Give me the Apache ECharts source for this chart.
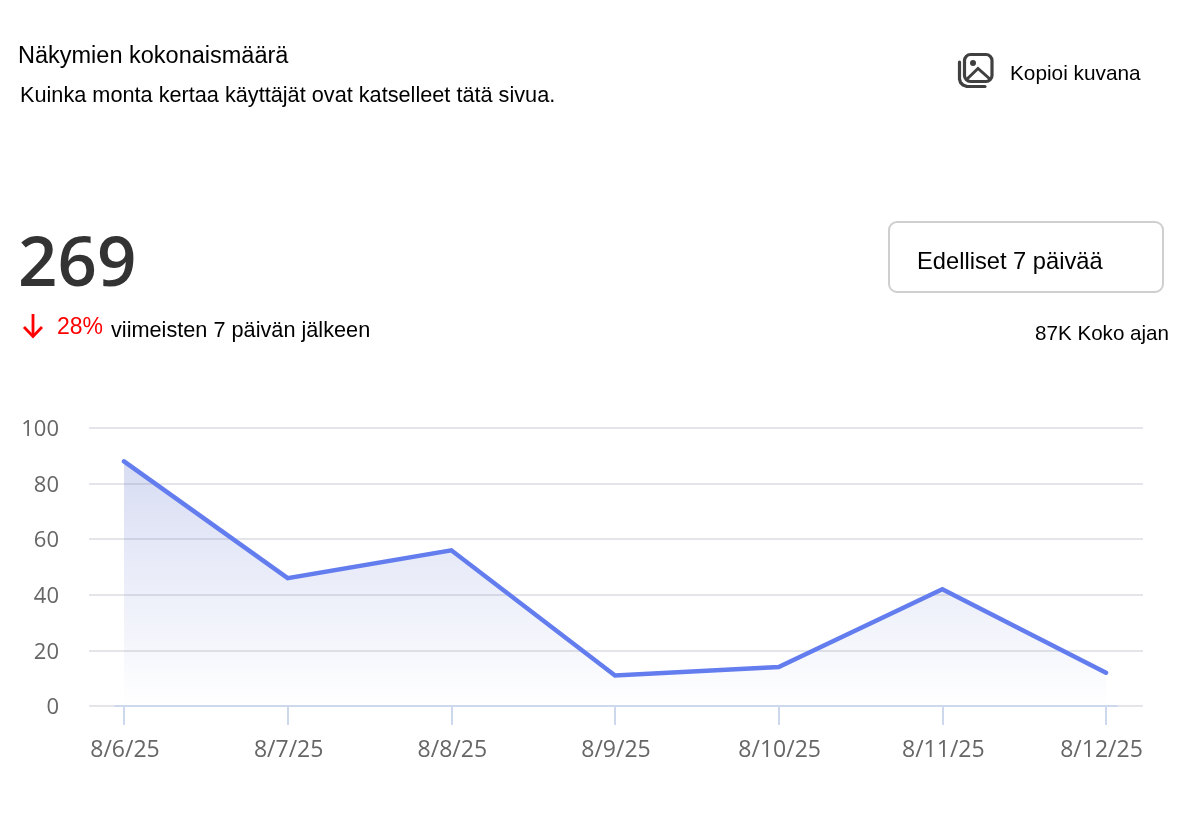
<!DOCTYPE html>
<html><head><meta charset="utf-8">
<style>html,body{margin:0;padding:0;background:#fff}#c{width:1182px;height:818px}</style>
<script src="https://cdn.jsdelivr.net/npm/echarts@6/dist/echarts.min.js"></script>
</head><body><div id="c"></div>
<script>
const categories = ['8/6/25','8/7/25','8/8/25','8/9/25','8/10/25','8/11/25','8/12/25'];
const views = [88,46,56,11,14,42,12];
const yTicks = {min:0,max:100,interval:20};
const sans = 'Liberation Sans';
const ui = '"Open Sans"';
const chart = echarts.init(document.getElementById('c'),null,{renderer:'canvas'});
function txt(x,y,t,size,color,font,weight,align){
  return {type:'text',z:10,x,y,style:{text:t,font:(weight||'normal')+' '+size+'px '+(font||sans),fill:color||'#000',textAlign:align||'left',textVerticalAlign:'middle'}};
}
const xData = categories.map((c,i)=> i===categories.length-1 ? {value:c,textStyle:{padding:[0,9,0,0]}} : {value:c,textStyle:{padding:[0,0,0,2]}});
chart.setOption({
  animation:false,
  backgroundColor:'#fff',
  grid:[
    {left:89,width:1054,top:428,height:278},
    {left:124,width:982,top:428,height:278},
    {left:115,width:1002,top:428,height:278},
    {left:89,width:1054,top:430,height:278}
  ],
  xAxis:[
    {gridIndex:0,type:'category',data:categories,show:false},
    {gridIndex:1,type:'category',data:xData,boundaryGap:false,
      axisLine:{show:false},
      axisTick:{show:true,length:19,lineStyle:{color:'#cdd8ec',width:2}},
      axisLabel:{color:'#666',fontFamily:ui,fontSize:23,margin:33,interval:0,hideOverlap:false,alignMinLabel:'center',alignMaxLabel:'center'},splitLine:{show:false}},
    {gridIndex:2,type:'value',min:0,max:1,axisLine:{show:true,onZero:false,lineStyle:{color:'#cdd8ec',width:2}},axisTick:{show:false},axisLabel:{show:false},splitLine:{show:false}},
    {gridIndex:3,type:'category',data:categories,show:false}
  ],
  yAxis:[
    {gridIndex:0,type:'value',min:yTicks.min,max:yTicks.max,interval:yTicks.interval,
      axisLine:{show:false},axisTick:{show:false},axisLabel:{show:false},
      splitLine:{show:true,lineStyle:{color:'#e4e5e8',width:2}}},
    {gridIndex:1,type:'value',min:yTicks.min,max:yTicks.max,show:false},
    {gridIndex:2,type:'value',min:yTicks.min,max:yTicks.max,show:false},
    {gridIndex:3,type:'value',min:yTicks.min,max:yTicks.max,interval:yTicks.interval,
      axisLine:{show:false},axisTick:{show:false},splitLine:{show:false},
      axisLabel:{color:'#666',fontFamily:ui,fontSize:22,margin:30}}
  ],
  series:[{
    type:'line',xAxisIndex:1,yAxisIndex:1,data:views,showSymbol:false,
    lineStyle:{color:'#637DEF',width:4.5,cap:'round',join:'miter'},
    areaStyle:{color:new echarts.graphic.LinearGradient(0,0,0,1,[{offset:0,color:'rgba(90,110,205,0.34)'},{offset:1,color:'rgba(90,110,205,0.0)'}])}
  }],
  graphic:[
    txt(18,57,'Näkymien kokonaismäärä',23.5),
    txt(20,96,'Kuinka monta kertaa käyttäjät ovat katselleet tätä sivua.',21.7),
    txt(1010,74,'Kopioi kuvana',20.8),
    txt(18,266,'269',69,'#333',ui,'600'),
    txt(57,328,'28%',23,'#ff0000'),
    txt(111,331,'viimeisten 7 päivän jälkeen',21.7),
    txt(1169,334,'87K Koko ajan',20.6,'#000',sans,'normal','right'),
    {type:'rect',z:5,shape:{x:889,y:222,width:274,height:70,r:8},style:{fill:'#fff',stroke:'#cfcfcf',lineWidth:2}},
    txt(917,262,'Edelliset 7 päivää',23.7),
    {type:'polyline',z:10,shape:{points:[[33,314],[33,336]]},style:{stroke:'#ff0000',lineWidth:2.8,fill:null}},
    {type:'polyline',z:10,shape:{points:[[24,327],[33,336.5],[42,327]]},style:{stroke:'#ff0000',lineWidth:2.8,fill:null}},
    {type:'rect',z:10,shape:{x:964.5,y:54.5,width:27.5,height:27,r:6},style:{fill:'#fff',stroke:'#404040',lineWidth:3.2}},
    {type:'polyline',z:10,shape:{points:[[966,80],[978,68.5],[991,80]]},style:{stroke:'#404040',lineWidth:3,fill:null}},
    {type:'circle',z:10,shape:{cx:973,cy:63,r:3},style:{fill:'#404040'}},
    {type:'polyline',z:10,shape:{points:[[959.5,62],[959.5,79],[960.5,82.5],[963,85],[967,86.5],[985,86.5]]},style:{stroke:'#404040',lineWidth:3.2,fill:null,lineCap:'round',lineJoin:'round'}}
  ]
});
</script></body></html>
